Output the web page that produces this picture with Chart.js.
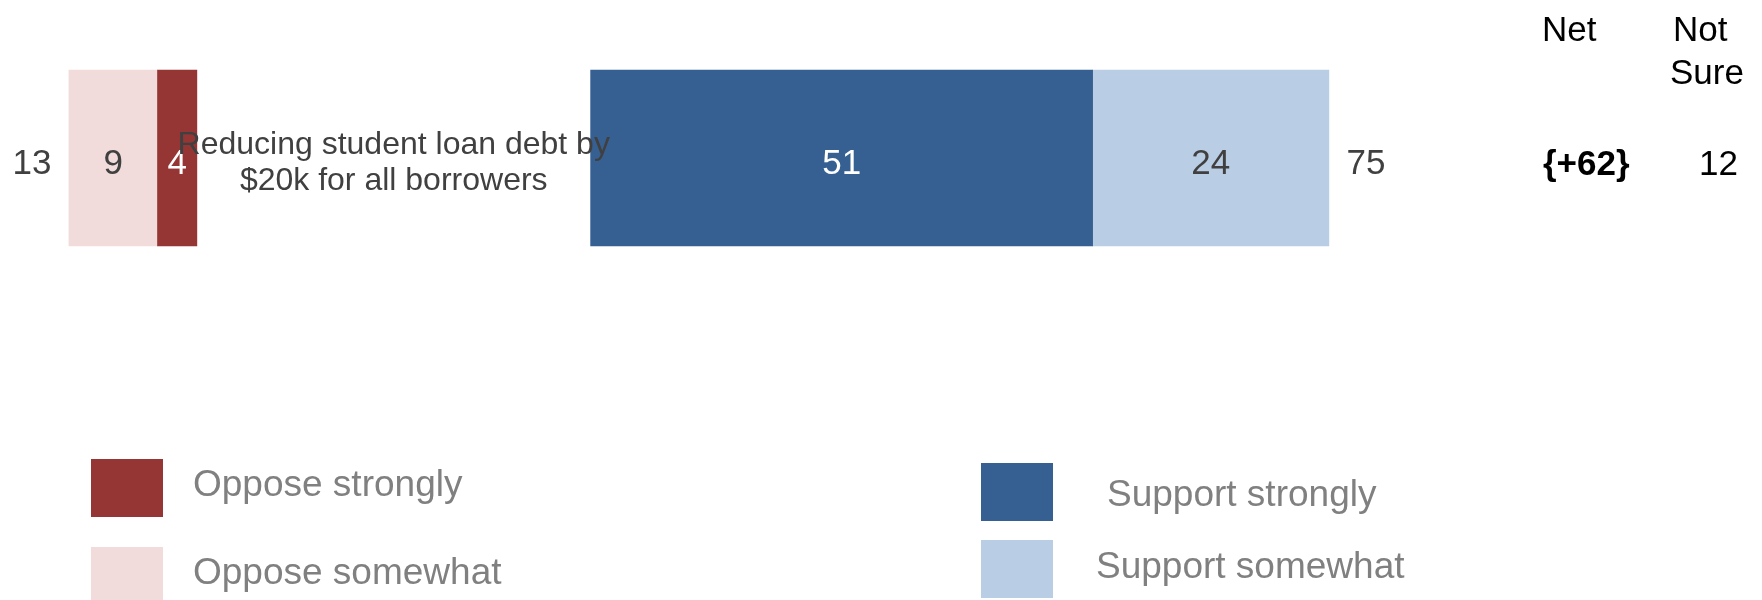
<!DOCTYPE html>
<html>
<head>
<meta charset="utf-8">
<title>Student loan debt</title>
<script src="https://cdn.jsdelivr.net/npm/chart.js@4"></script>
<style>
    html, body { margin: 0; padding: 0; background: #fff; }
    #wrap { position: relative; width: 1762px; height: 600px; }
</style>
</head>
<body>
<div id="wrap"><canvas id="pollChart"></canvas></div>
<script>
// data
const categories = [['Reducing student loan debt by', '$20k for all borrowers']];
const opposeStrongly = [4];
const opposeSomewhat = [9];
const supportStrongly = [51];
const supportSomewhat = [24];
const opposeTotal = [13];
const supportTotal = [75];
const netValues = ['{+62}'];
const notSure = [12];

// space (in scale units) kept free between the two sides for the question text
const GAP = 40;

const FONT = '"Liberation Sans", Arial, sans-serif';
// canvas 'middle' sits a little high for this font
const TEXT_DY = 4;
const colors = {
    opposeStrong: '#963634',
    opposeSome: '#F2DCDB',
    supportStrong: '#366092',
    supportSome: '#B9CDE5'
};

const datasets = [
    {
        label: 'Oppose strongly',
        data: opposeStrongly.map(v => [-v, 0]),
        backgroundColor: colors.opposeStrong,
        values: opposeStrongly,
        textColor: '#ffffff'
    },
    {
        label: 'Oppose somewhat',
        data: opposeSomewhat.map((v, i) => [-(opposeStrongly[i] + v), -opposeStrongly[i]]),
        backgroundColor: colors.opposeSome,
        values: opposeSomewhat,
        textColor: '#404040'
    },
    {
        label: 'Support strongly',
        data: supportStrongly.map(v => [GAP, GAP + v]),
        backgroundColor: colors.supportStrong,
        values: supportStrongly,
        textColor: '#ffffff'
    },
    {
        label: 'Support somewhat',
        data: supportSomewhat.map((v, i) => [GAP + supportStrongly[i], GAP + supportStrongly[i] + v]),
        backgroundColor: colors.supportSome,
        values: supportSomewhat,
        textColor: '#404040'
    }
];

// legend boxes: dataset index, box x/y, box size, text x/y
const legendLayout = [
    { ds: 0, bx: 91, by: 459, bw: 72, bh: 58, tx: 193, ty: 482 },
    { ds: 1, bx: 91, by: 547, bw: 72, bh: 53, tx: 193, ty: 570 },
    { ds: 2, bx: 981, by: 463, bw: 72, bh: 58, tx: 1107, ty: 492 },
    { ds: 3, bx: 981, by: 540, bw: 72, bh: 58, tx: 1096, ty: 564 }
];

const textPlugin = {
    id: 'pollText',
    afterDatasetsDraw(chart) {
        const ctx = chart.ctx;
        const xs = chart.scales.x;
        ctx.save();
        ctx.textBaseline = 'middle';

        // values inside the bars
        ctx.font = '35px ' + FONT;
        ctx.textAlign = 'center';
        chart.data.datasets.forEach((ds, d) => {
            chart.getDatasetMeta(d).data.forEach((el, i) => {
                ctx.fillStyle = ds.textColor;
                ctx.fillText(String(ds.values[i]), (el.x + el.base) / 2, el.y + 2 + TEXT_DY);
            });
        });

        categories.forEach((lines, i) => {
            const y = chart.scales.y.getPixelForValue(i) + TEXT_DY;

            // totals either side
            ctx.fillStyle = '#404040';
            ctx.font = '35px ' + FONT;
            ctx.textAlign = 'center';
            const oppEnd = xs.getPixelForValue(-(opposeStrongly[i] + opposeSomewhat[i]));
            ctx.fillText(String(opposeTotal[i]), oppEnd - 37, y + 2);
            const supEnd = xs.getPixelForValue(GAP + supportStrongly[i] + supportSomewhat[i]);
            ctx.fillText(String(supportTotal[i]), supEnd + 37, y + 2);

            // question text in the gap
            ctx.font = '32px ' + FONT;
            const mid = xs.getPixelForValue(GAP / 2);
            lines.forEach((line, k) => {
                ctx.fillText(line, mid, y - 17 + k * 36.5);
            });

            // net and not sure columns
            ctx.fillStyle = '#000000';
            ctx.textAlign = 'left';
            ctx.font = 'bold 35px ' + FONT;
            ctx.fillText(netValues[i], 1543, y + 3);
            ctx.font = '35px ' + FONT;
            ctx.fillText(String(notSure[i]), 1699, y + 3);
        });

        // column headers
        ctx.fillStyle = '#000000';
        ctx.font = '35px ' + FONT;
        ctx.textAlign = 'left';
        ctx.fillText('Net', 1542, 27 + TEXT_DY);
        ctx.fillText('Not', 1673, 27 + TEXT_DY);
        ctx.fillText('Sure', 1670, 70 + TEXT_DY);
        ctx.restore();
    },
    afterDraw(chart) {
        const ctx = chart.ctx;
        ctx.save();
        ctx.textBaseline = 'middle';
        ctx.textAlign = 'left';
        ctx.font = '37px ' + FONT;
        legendLayout.forEach(item => {
            const ds = chart.data.datasets[item.ds];
            ctx.fillStyle = ds.backgroundColor;
            ctx.fillRect(item.bx, item.by, item.bw, item.bh);
            ctx.fillStyle = '#808080';
            ctx.fillText(ds.label, item.tx, item.ty + TEXT_DY);
        });
        ctx.restore();
    }
};

new Chart(document.getElementById('pollChart'), {
    type: 'bar',
    data: {
        labels: categories,
        datasets: datasets
    },
    options: {
        indexAxis: 'y',
        responsive: true,
        maintainAspectRatio: false,
        animation: false,
        barThickness: 176,
        borderSkipped: false,
        layout: { padding: { top: 0, bottom: 284, left: 0, right: 0 } },
        plugins: {
            legend: { display: false },
            tooltip: { enabled: false }
        },
        scales: {
            x: { min: -20, max: 159, display: false },
            y: { stacked: true, display: false }
        }
    },
    plugins: [textPlugin]
});
</script>
</body>
</html>
